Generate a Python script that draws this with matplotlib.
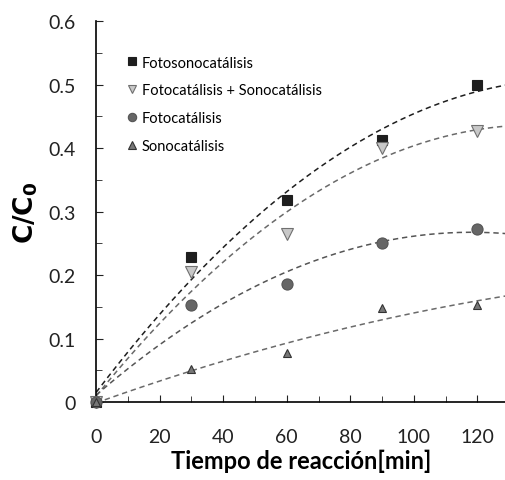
"""
Relative concentration C/C0 vs reaction time for four treatments.
"""

import numpy as np
import matplotlib
matplotlib.use('Agg')
import matplotlib.pyplot as plt
from matplotlib.ticker import MultipleLocator

# data
tiempo = [0, 30, 60, 90, 120]
fotosono = [0, 0.228, 0.318, 0.413, 0.500]
foto_mas_sono = [0, 0.205, 0.265, 0.400, 0.427]
foto = [0, 0.153, 0.186, 0.250, 0.272]
sono = [0, 0.052, 0.077, 0.148, 0.153]

labels = ['Fotosonocatálisis', 'Fotocatálisis + Sonocatálisis',
          'Fotocatálisis', 'Sonocatálisis']

plt.rcParams['font.family'] = ['Lato', 'DejaVu Sans']

# init figure
fig = plt.figure(figsize=(5.06, 4.81), dpi=100)
ax = fig.add_axes([0.19, 0.162, 0.81, 0.792])

styles = [
    dict(marker='s', color='#1e1e1e', mec='#1e1e1e', ms=7, lc='#1e1e1e'),
    dict(marker='v', color='#c8c8c8', mec='#707070', ms=9, lc='#6a6a6a'),
    dict(marker='o', color='#666666', mec='#555555', ms=8, lc='#555555'),
    dict(marker='^', color='#777777', mec='#333333', ms=6, lc='#6a6a6a'),
]

xfit = np.linspace(0, 130, 200)
for y, lab, st in zip([fotosono, foto_mas_sono, foto, sono], labels, styles):
    # quadratic trend line
    coef = np.polyfit(tiempo, y, 2)
    ax.plot(xfit, np.polyval(coef, xfit), linestyle=(0, (3.5, 2.5)),
            color=st['lc'], lw=1.1, zorder=2)
    ax.plot(tiempo, y, linestyle='', marker=st['marker'], color=st['color'],
            mec=st['mec'], mew=0.8, ms=st['ms'], label=lab, clip_on=False,
            zorder=3)

ax.set_xlim(0, 129)
ax.set_ylim(0, 0.6)
ax.xaxis.set_major_locator(MultipleLocator(20))
ax.xaxis.set_minor_locator(MultipleLocator(10))
ax.yaxis.set_major_locator(MultipleLocator(0.1))
ax.yaxis.set_minor_locator(MultipleLocator(0.05))
ax.yaxis.set_major_formatter(plt.FuncFormatter(
    lambda v, p: '0' if abs(v) < 1e-9 else '%.1f' % v))
ax.tick_params(which='both', direction='in', labelsize=14, colors='#222222')
ax.tick_params(which='major', length=5)
ax.tick_params(which='minor', length=4)
ax.tick_params(axis='y', pad=15)
ax.tick_params(axis='x', pad=19)

for side in ['top', 'right']:
    ax.spines[side].set_visible(False)
for side in ['left', 'bottom']:
    ax.spines[side].set_linewidth(1.2)

ax.set_xlabel('Tiempo de reacción[min]', fontsize=17, fontweight='bold',
              labelpad=2)
ax.set_ylabel(r'$\mathbf{C/C_0}$', fontsize=19, labelpad=6)

leg = ax.legend(loc='upper left', bbox_to_anchor=(0.055, 0.925), frameon=False,
                fontsize=10.5, handletextpad=0.2, labelspacing=0.95,
                handlelength=1.0, borderaxespad=0)
for h in leg.legend_handles:
    h.set_markersize(6)

fig.savefig('out.png')
